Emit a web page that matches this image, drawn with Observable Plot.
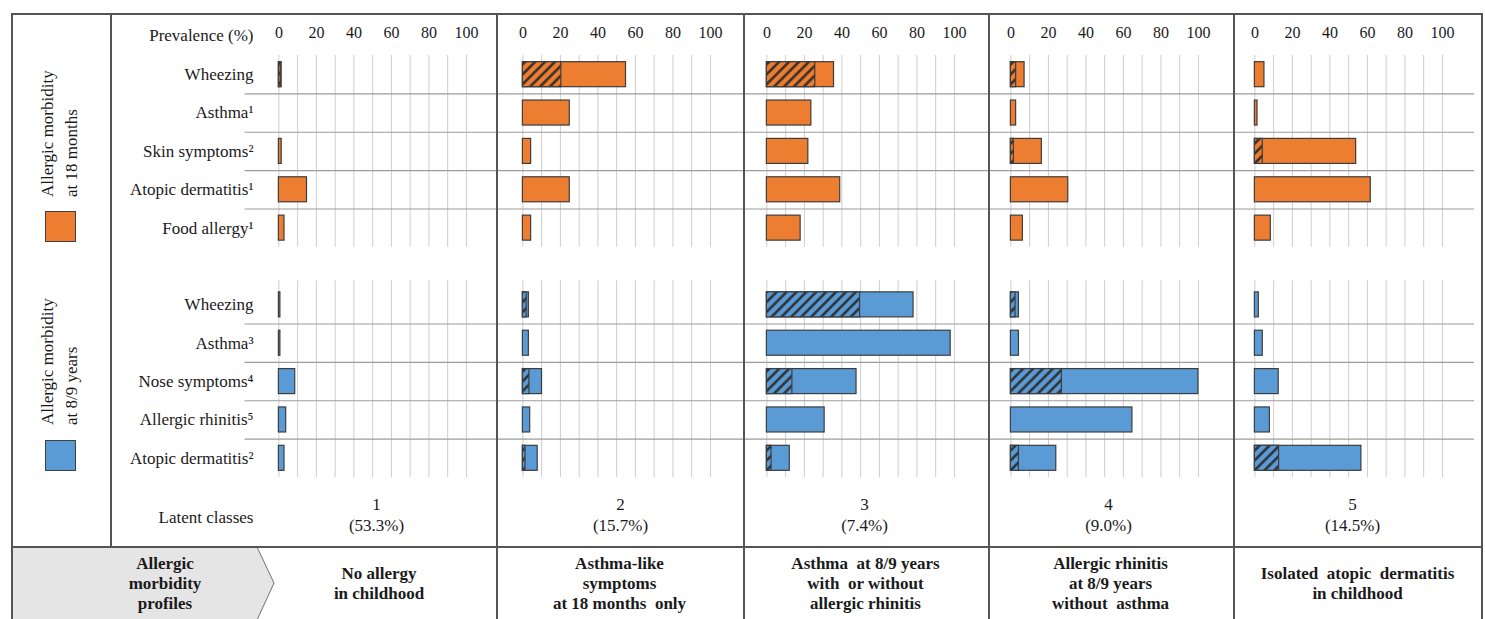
<!DOCTYPE html>
<html><head><meta charset="utf-8">
<script src="https://cdn.jsdelivr.net/npm/d3@7"></script>
<script src="https://cdn.jsdelivr.net/npm/@observablehq/plot@0.6"></script>
<style>
body{margin:0;background:#fff;}
#wrap{position:relative;width:1485px;height:619px;overflow:hidden;font-family:"Liberation Serif","LiberationSerif","Tinos","Times New Roman","Times","DejaVu Serif","Noto Serif",serif;color:#1a1a1a;background:#fff;}
.ln{position:absolute;background:#555;}
.rot{position:absolute;width:150px;height:48px;line-height:24px;font-size:17px;text-align:left;white-space:pre;transform:rotate(-90deg);}
.sq{position:absolute;width:29px;height:29px;border:1px solid #404040;}
.cell{position:absolute;top:548px;height:72px;display:flex;align-items:center;justify-content:center;text-align:center;font-weight:bold;font-size:17px;line-height:20px;white-space:pre;}
</style></head><body><div id="wrap"></div>
<script>
// ---- data ----
const classes = [1, 2, 3, 4, 5];
const classShares = ["53.3%", "15.7%", "7.4%", "9.0%", "14.5%"];
const profileHeader = "Allergic\nmorbidity\nprofiles";
const profiles = [
  "No allergy\nin childhood",
  "Asthma-like\nsymptoms\nat 18 months  only",
  "Asthma  at 8/9 years\nwith  or without\nallergic rhinitis",
  "Allergic rhinitis\nat 8/9 years\nwithout  asthma",
  "Isolated  atopic  dermatitis\nin childhood"
];
const groupLabels = ["Allergic morbidity\nat 18 months", "Allergic morbidity\nat 8/9 years"];
const items18m = ["Wheezing", "Asthma\u00b9", "Skin symptoms\u00b2", "Atopic dermatitis\u00b9", "Food allergy\u00b9"];
const items89y = ["Wheezing", "Asthma\u00b3", "Nose symptoms\u2074", "Allergic rhinitis\u2075", "Atopic dermatitis\u00b2"];
// prevalence (%) per class, rows in item order
const prev18m = [
  [1.5, 0, 1.5, 15, 3],
  [55, 25, 4.4, 25, 4.4],
  [35.8, 23.7, 22.1, 39.1, 18],
  [7.3, 2.8, 16.5, 30.6, 6.4],
  [5.1, 1.4, 54, 61.8, 8.5]
];
const hatch18m = [
  [1.0, 0, 0, 0, 0],
  [20.5, 0, 0, 0, 0],
  [25.8, 0, 0, 0, 0],
  [2.8, 0, 1.6, 0, 0],
  [0, 0, 4.2, 0, 0]
];
const prev89y = [
  [0.8, 0.8, 8.7, 3.9, 3],
  [3.2, 3.2, 10.2, 3.9, 7.9],
  [78.2, 98, 47.8, 30.8, 12.2],
  [4.3, 4.3, 100, 64.8, 24.2],
  [2.1, 4.2, 12.7, 8, 56.8]
];
const hatch89y = [
  [0, 0, 0, 0, 0],
  [2, 0, 3.5, 0, 1.4],
  [49.7, 0, 13.6, 0, 2.5],
  [2.5, 0, 27.2, 0, 4.3],
  [0, 0, 0, 0, 12.9]
];
const tickValues = [0, 20, 40, 60, 80, 100];
const gridValues = [0, 10, 20, 30, 40, 50, 60, 70, 80, 90, 100];

// ---- layout constants ----
const W = 1485, H = 547, ML = 252.5, STEP = 244.6, MT = 55, MB = 70;
const XMIN = -13, XMAX = 117.1, BH = 0.326;
const ORANGE = "#ED7D31", BLUE = "#5B9BD5", OUT = "#3d3d3d";
const FONT = "'Liberation Serif', 'LiberationSerif', Tinos, 'Times New Roman', Times, 'DejaVu Serif', 'Noto Serif', serif";

const rows = [];
classes.forEach((c, ci) => {
  items18m.forEach((lab, j) => rows.push({cls: c, row: j, group: "m18", total: prev18m[ci][j], hatch: hatch18m[ci][j]}));
  items89y.forEach((lab, j) => rows.push({cls: c, row: 6 + j, group: "y89", total: prev89y[ci][j], hatch: hatch89y[ci][j]}));
});
const rowLabels = [...items18m, "", ...items89y];
const rowTicks = [0, 1, 2, 3, 4, 6, 7, 8, 9, 10];
const grid = [];
classes.forEach(c => gridValues.forEach(v => {
  grid.push({cls: c, x: v, y1: -0.5, y2: 4.5});
  grid.push({cls: c, x: v, y1: 5.37, y2: 10.5});
}));
const seps = [];
classes.forEach(c => [0.5, 1.5, 2.5, 3.5, 6.5, 7.5, 8.5, 9.5].forEach(y => seps.push({cls: c, y, x1: c === 1 ? -18 : XMIN})));

const barOpts = (fill, key) => ({fx: "cls", x1: 0, x2: key, y1: d => d.row - BH, y2: d => d.row + BH, fill, stroke: OUT, strokeWidth: 1.2});

const plot = Plot.plot({
  width: W, height: H,
  marginLeft: ML, marginRight: W - ML - 5 * STEP, marginTop: MT, marginBottom: MB,
  style: {fontFamily: FONT, fontSize: "17px", color: "#1a1a1a", background: "transparent"},
  fx: {domain: classes, padding: 0, axis: null},
  x: {domain: [XMIN, XMAX]},
  y: {domain: [-0.5, 10.5], reverse: true},
  marks: [
    Plot.ruleX(grid, {fx: "cls", x: "x", y1: "y1", y2: "y2", stroke: "#cdcdcd", strokeWidth: 1}),
    Plot.ruleY(seps, {fx: "cls", y: "y", x1: "x1", x2: XMAX, stroke: "#9c9c9c", strokeWidth: 1.1}),
    Plot.rect(rows.filter(d => d.group === "m18" && d.total > 0), barOpts(ORANGE, "total")),
    Plot.rect(rows.filter(d => d.group === "y89" && d.total > 0), barOpts(BLUE, "total")),
    Plot.rect(rows.filter(d => d.group === "m18" && d.hatch > 0), barOpts("url(#hatchO)", "hatch")),
    Plot.rect(rows.filter(d => d.group === "y89" && d.hatch > 0), barOpts("url(#hatchB)", "hatch")),
    Plot.axisX({anchor: "top", ticks: tickValues, tickSize: 0, tickPadding: 18, fontSize: 16}),
    Plot.axisY({ticks: rowTicks, tickFormat: i => rowLabels[i], tickSize: 0, tickPadding: 1, label: null}),
    Plot.text(["Prevalence (%)"], {fx: () => 1, frameAnchor: "top-left", textAnchor: "end", dx: -1, dy: -27, text: d => d}),
    Plot.text(["Latent classes"], {fx: () => 1, frameAnchor: "bottom-left", textAnchor: "end", dx: -1, dy: 45, text: d => d}),
    Plot.text(classes, {fx: d => d, frameAnchor: "bottom", dy: 53.5, lineHeight: 1.24, text: (d, i) => `${d}\n(${classShares[i]})`})
  ]
});

// hatch patterns
const svg = d3.select(plot);
const defs = svg.insert("defs", ":first-child");
function pattern(id, color) {
  const p = defs.append("pattern").attr("id", id).attr("patternUnits", "userSpaceOnUse")
    .attr("width", 7).attr("height", 7).attr("patternTransform", "rotate(45)");
  p.append("rect").attr("width", 7).attr("height", 7).attr("fill", color);
  p.append("line").attr("x1", 3.5).attr("y1", 0).attr("x2", 3.5).attr("y2", 7).attr("stroke", "#2a2a2a").attr("stroke-width", 2.4);
}
pattern("hatchO", ORANGE);
pattern("hatchB", BLUE);

const wrap = document.getElementById("wrap");
plot.style.position = "absolute";
plot.style.left = "0px";
plot.style.top = "0px";
wrap.appendChild(plot);

function div(cls, css, text) {
  const e = document.createElement("div");
  e.className = cls;
  Object.assign(e.style, css);
  if (text != null) e.textContent = text;
  wrap.appendChild(e);
  return e;
}
// grey arrow of the profile row
const ns = "http://www.w3.org/2000/svg";
const arr = document.createElementNS(ns, "svg");
arr.setAttribute("width", 300); arr.setAttribute("height", 80);
Object.assign(arr.style, {position: "absolute", left: "0px", top: "547px"});
const poly = document.createElementNS(ns, "polygon");
poly.setAttribute("points", "11,0 257,0 274,36 257,73 11,73");
poly.setAttribute("fill", "#e6e5e5");
arr.appendChild(poly);
const pl = document.createElementNS(ns, "polyline");
pl.setAttribute("points", "257,0 274,36 257,73");
pl.setAttribute("fill", "none"); pl.setAttribute("stroke", "#707070"); pl.setAttribute("stroke-width", "1");
arr.appendChild(pl);
wrap.appendChild(arr);

// frame lines
div("ln", {left: "11px", top: "13px", width: "1.5px", height: "620px"});
div("ln", {left: "11px", top: "13px", width: "1471px", height: "1.5px"});
div("ln", {left: "1481px", top: "13px", width: "1.5px", height: "620px"});
div("ln", {left: "110px", top: "13px", width: "1.5px", height: "534px"});
div("ln", {left: "11px", top: "546px", width: "1471px", height: "2px"});
const dividers = [496, 743, 988, 1233];
dividers.forEach(x => div("ln", {left: x + "px", top: "13px", width: "1.5px", height: "620px"}));

// legend column
div("rot", {left: "-15px", top: "98px"}, groupLabels[0]);
div("rot", {left: "-15px", top: "326px"}, groupLabels[1]);
div("sq", {left: "45px", top: "211px", background: ORANGE});
div("sq", {left: "45px", top: "440px", background: BLUE});

// profile row
div("cell", {left: "60px", width: "210px"}, profileHeader);
const cellBounds = [[262, 496], [496, 743], [743, 988], [988, 1233], [1233, 1482]];
profiles.forEach((t, i) => {
  const [a, b] = cellBounds[i];
  div("cell", {left: a + "px", width: (b - a) + "px"}, t);
});
</script></body></html>
